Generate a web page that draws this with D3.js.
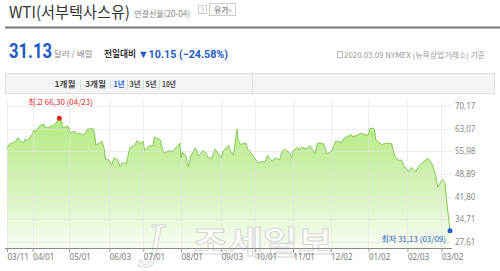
<!DOCTYPE html>
<html>
<head>
<meta charset="utf-8">
<script src="https://cdn.jsdelivr.net/npm/d3@7"></script>
<style>
body { margin: 0; background: #fff; font-family: "Noto Sans CJK KR", "Noto Sans", sans-serif; }
</style>
</head>
<body>
<div id="chart"></div>
<script>
// WTI daily close (USD / bbl)
const dates = [
    "2019-03-11","2019-03-13","2019-03-15","2019-03-18","2019-03-20","2019-03-22","2019-03-25","2019-03-26","2019-03-28",
    "2019-04-01","2019-04-02","2019-04-04","2019-04-05","2019-04-08","2019-04-09","2019-04-10","2019-04-11","2019-04-15",
    "2019-04-16","2019-04-17","2019-04-18","2019-04-22","2019-04-23","2019-04-24","2019-04-25","2019-04-26","2019-04-30",
    "2019-05-02","2019-05-06","2019-05-07","2019-05-09","2019-05-13","2019-05-16","2019-05-20","2019-05-21","2019-05-22",
    "2019-05-23","2019-05-28","2019-05-30","2019-05-31","2019-06-03","2019-06-05","2019-06-07","2019-06-10","2019-06-12",
    "2019-06-14","2019-06-17","2019-06-18","2019-06-20","2019-06-24","2019-06-26","2019-06-28","2019-07-01","2019-07-02",
    "2019-07-05","2019-07-09","2019-07-10","2019-07-12","2019-07-15","2019-07-16","2019-07-18","2019-07-22","2019-07-24",
    "2019-07-26","2019-07-31","2019-08-01","2019-08-02","2019-08-05","2019-08-07","2019-08-09","2019-08-13","2019-08-15",
    "2019-08-19","2019-08-21","2019-08-23","2019-08-26","2019-08-29","2019-09-03","2019-09-05","2019-09-09","2019-09-11",
    "2019-09-13","2019-09-16","2019-09-17","2019-09-19","2019-09-23","2019-09-25","2019-09-27","2019-09-30","2019-10-03",
    "2019-10-07","2019-10-09","2019-10-11","2019-10-15","2019-10-17","2019-10-21","2019-10-23","2019-10-25","2019-10-29",
    "2019-10-31","2019-11-01","2019-11-05","2019-11-06","2019-11-08","2019-11-12","2019-11-15","2019-11-19","2019-11-21",
    "2019-11-26","2019-11-29","2019-12-03","2019-12-05","2019-12-06","2019-12-11","2019-12-13","2019-12-17","2019-12-19",
    "2019-12-20","2019-12-24","2019-12-27","2019-12-31","2020-01-02","2020-01-03","2020-01-06","2020-01-07","2020-01-08",
    "2020-01-10","2020-01-13","2020-01-16","2020-01-21","2020-01-22","2020-01-24","2020-01-27","2020-01-29","2020-01-31",
    "2020-02-04","2020-02-06","2020-02-10","2020-02-12","2020-02-14","2020-02-20","2020-02-21","2020-02-24","2020-02-26",
    "2020-02-28","2020-03-02","2020-03-03","2020-03-05","2020-03-06","2020-03-09"
];
const prices = [
    56.79, 58.26, 58.52, 59.09, 60.23, 59.04, 58.82, 59.94, 59.30,
    61.59, 62.58, 62.10, 63.08, 64.40, 64.01, 64.61, 63.58, 63.40,
    64.05, 63.76, 64.00, 65.70, 66.30, 65.89, 65.21, 63.30, 63.91,
    61.81, 62.25, 61.40, 61.70, 61.04, 62.87, 63.10, 62.99, 61.42,
    57.91, 59.14, 56.59, 53.50, 53.25, 51.68, 53.99, 53.26, 51.14,
    52.51, 51.93, 53.90, 57.07, 57.90, 59.38, 58.47, 59.09, 56.25,
    57.51, 57.83, 60.43, 60.21, 59.58, 57.62, 55.30, 56.22, 55.88,
    56.20, 58.58, 53.95, 55.66, 54.69, 51.09, 54.50, 57.10, 54.47,
    56.21, 55.68, 54.17, 53.64, 56.71, 53.94, 56.30, 57.85, 55.75,
    54.85, 62.90, 59.34, 58.13, 58.64, 56.49, 55.91, 54.07, 52.45,
    52.75, 52.59, 54.70, 52.81, 53.93, 53.31, 55.97, 56.66, 55.54,
    54.18, 56.20, 57.23, 56.35, 57.24, 56.80, 57.72, 55.21, 58.58,
    58.41, 55.17, 56.10, 58.43, 59.20, 58.76, 60.07, 60.94, 61.22,
    60.44, 61.11, 61.72, 61.06, 61.18, 63.05, 63.27, 62.70, 59.61,
    59.04, 58.08, 58.52, 58.34, 56.74, 54.19, 53.14, 53.33, 51.56,
    49.61, 50.95, 49.57, 51.17, 52.05, 53.78, 53.38, 51.43, 48.73,
    44.76, 46.75, 47.18, 45.90, 41.28, 31.13
];
const yTicks = [27.61, 34.71, 41.80, 48.89, 55.98, 63.07, 70.17];
const xTicks = ["2019-03-11","2019-04-01","2019-05-01","2019-06-03","2019-07-01","2019-08-01","2019-09-03",
                "2019-10-01","2019-11-01","2019-12-02","2020-01-02","2020-02-03","2020-03-02"];
const periods = ["1개월", "3개월", "1년", "3년", "5년", "10년"];

const parseDate = d3.timeParse("%Y-%m-%d");
const data = dates.map((d, i) => ({ date: parseDate(d), value: prices[i] }));

const W = 500, H = 271;
const svg = d3.select("#chart").append("svg")
    .attr("width", W).attr("height", H)
    .style("display", "block");

// ---------- header ----------
svg.append("text").attr("x", 9).attr("y", 18)
    .attr("font-size", 16).attr("fill", "#333")
    .attr("textLength", 121).attr("lengthAdjust", "spacingAndGlyphs")
    .text("WTI(서부텍사스유)");
svg.append("text").attr("x", 134).attr("y", 17)
    .attr("font-size", 8.5).attr("fill", "#888")
    .attr("textLength", 56).attr("lengthAdjust", "spacingAndGlyphs")
    .text("연결선물(20-04)");
svg.append("rect").attr("x", 198.5).attr("y", 5.5).attr("width", 8).attr("height", 8)
    .attr("fill", "#fff").attr("stroke", "#ccc");
svg.append("text").attr("x", 202.5).attr("y", 12.5).attr("text-anchor", "middle")
    .attr("font-size", 7).attr("fill", "#aaa").text("?");
svg.append("rect").attr("x", 209.5).attr("y", 3.5).attr("width", 26).attr("height", 12)
    .attr("fill", "#fff").attr("stroke", "#ccc");
svg.append("text").attr("x", 214).attr("y", 12.5)
    .attr("font-size", 8).attr("fill", "#555").text("유가›");

svg.append("line").attr("x1", 5).attr("x2", 500).attr("y1", 27.5).attr("y2", 27.5)
    .attr("stroke", "#777").attr("stroke-width", 2);

svg.append("text").attr("x", 9).attr("y", 58)
    .attr("font-size", 21).attr("font-weight", "bold").attr("fill", "#1c5bc6")
    .attr("font-family", "Roboto, sans-serif")
    .attr("textLength", 43).attr("lengthAdjust", "spacingAndGlyphs")
    .text("31.13");
svg.append("text").attr("x", 54).attr("y", 57)
    .attr("font-size", 8.5).attr("fill", "#888")
    .text("달러 / 배럴");
svg.append("text").attr("x", 104).attr("y", 57)
    .attr("font-size", 9.5).attr("font-weight", "bold").attr("fill", "#333")
    .attr("textLength", 32).attr("lengthAdjust", "spacingAndGlyphs")
    .text("전일대비");
svg.append("text").attr("x", 138).attr("y", 57.5)
    .attr("font-size", 11).attr("font-weight", "bold").attr("fill", "#1c5bc6")
    .attr("font-family", "Roboto, sans-serif")
    .attr("textLength", 90).attr("lengthAdjust", "spacingAndGlyphs")
    .text("▼10.15 (−24.58%)");

svg.append("rect").attr("x", 337.5).attr("y", 51.5).attr("width", 5).attr("height", 6)
    .attr("fill", "none").attr("stroke", "#bbb");
svg.append("text").attr("x", 344).attr("y", 58)
    .attr("font-size", 8).attr("fill", "#999")
    .attr("textLength", 141).attr("lengthAdjust", "spacingAndGlyphs")
    .text("2020.03.09 NYMEX (뉴욕상업거래소) 기준");

// ---------- period tabs ----------
svg.append("rect").attr("x", 5.5).attr("y", 73.5).attr("width", 489).attr("height", 20)
    .attr("fill", "#f4f5f7").attr("stroke", "#dcdee3");
svg.append("line").attr("x1", 252.5).attr("x2", 252.5).attr("y1", 74).attr("y2", 93)
    .attr("stroke", "#dcdee3");

// centre and width of each tab label
const tabMid = [65, 95.5, 119, 135, 151, 169];
const tabWidth = [21, 21, 11, 11, 11, 14];
const tabSep = [80.5, 110.5, 127.5, 143.5, 159.5];
periods.forEach((p, i) => {
    svg.append("text").attr("x", tabMid[i]).attr("y", 87)
        .attr("text-anchor", "middle")
        .attr("font-size", 8).attr("font-weight", "bold")
        .attr("textLength", tabWidth[i]).attr("lengthAdjust", "spacingAndGlyphs")
        .attr("fill", p === "1년" ? "#2b63d1" : "#4a4a4a").text(p);
});
svg.append("g").selectAll("line").data(tabSep).join("line")
    .attr("x1", d => d).attr("x2", d => d).attr("y1", 80).attr("y2", 89)
    .attr("stroke", "#d6d8dd");

// ---------- chart ----------
const x = d3.scaleTime()
    .domain([parseDate("2019-03-11"), parseDate("2020-03-09")])
    .range([7, 450]);
const y = d3.scaleLinear()
    .domain([27.61, 70.17])
    .range([242, 106]);
const baseY = 248, plotRight = 452;

const grad = svg.append("defs").append("linearGradient")
    .attr("id", "fill").attr("gradientUnits", "userSpaceOnUse")
    .attr("x1", 0).attr("x2", 0).attr("y1", 115).attr("y2", baseY);
grad.append("stop").attr("offset", 0).attr("stop-color", "#b2e97f");
grad.append("stop").attr("offset", 0.55).attr("stop-color", "#d5f3b9");
grad.append("stop").attr("offset", 1).attr("stop-color", "#f8fdf3");

svg.append("path").datum(data)
    .attr("fill", "url(#fill)")
    .attr("d", d3.area().x(d => x(d.date)).y0(baseY).y1(d => y(d.value)));

// grid
svg.append("g").selectAll("line").data(yTicks).join("line")
    .attr("x1", 7).attr("x2", plotRight)
    .attr("y1", d => Math.round(y(d)) + 0.5).attr("y2", d => Math.round(y(d)) + 0.5)
    .attr("stroke", "#e3e3e3").attr("stroke-opacity", 0.6);
svg.append("g").selectAll("line").data(xTicks).join("line")
    .attr("x1", d => Math.round(x(parseDate(d))) + 0.5).attr("x2", d => Math.round(x(parseDate(d))) + 0.5)
    .attr("y1", 100).attr("y2", baseY)
    .attr("stroke", "#e3e3e3").attr("stroke-opacity", 0.6);

svg.append("path").datum(data)
    .attr("fill", "none").attr("stroke", "#86c757").attr("stroke-width", 1)
    .attr("d", d3.line().x(d => x(d.date)).y(d => y(d.value)));

// watermark
const wm = svg.append("g").attr("opacity", 0.9);
wm.append("text").attr("x", 146).attr("y", 258)
    .attr("font-size", 44).attr("font-style", "italic").attr("font-family", "DejaVu Serif, serif")
    .attr("fill", "#fff").attr("stroke", "#d4d4d4").attr("stroke-width", 1)
    .text("J");
wm.append("text").attr("x", 193).attr("y", 254)
    .attr("font-size", 32).attr("font-weight", "bold")
    .attr("fill", "#fff").attr("stroke", "#d4d4d4").attr("stroke-width", 1)
    .attr("textLength", 140).attr("lengthAdjust", "spacingAndGlyphs")
    .text("조세일보");

// x axis
const fmtX = d3.timeFormat("%m/%d");
const xAxis = svg.append("g").attr("transform", "translate(0," + baseY + ")")
    .call(d3.axisBottom(x).tickValues(xTicks.map(parseDate)).tickFormat(fmtX).tickSize(4).tickSizeOuter(0));
xAxis.select(".domain").attr("stroke", "#888").attr("d", "M5,0.5H" + plotRight);
xAxis.selectAll(".tick line").attr("stroke", "#999");
xAxis.selectAll(".tick text")
    .attr("text-anchor", "start").attr("x", 0).attr("y", 6)
    .attr("font-size", 8).attr("fill", "#777")
    .attr("font-family", "\"Noto Sans\", sans-serif");

// y axis (right)
const fmtY = d => d3.format(".2f")(d).replace(".", ",");
const yAxis = svg.append("g").attr("transform", "translate(453,0)")
    .call(d3.axisRight(y).tickValues(yTicks).tickFormat(fmtY).tickSize(0));
yAxis.select(".domain").remove();
yAxis.selectAll(".tick text")
    .attr("x", 2).attr("font-size", 8).attr("fill", "#888")
    .attr("font-family", "\"Noto Sans\", sans-serif");

// high / low markers
const hi = data.reduce((a, b) => (b.value > a.value ? b : a));
const lo = data.reduce((a, b) => (b.value < a.value ? b : a));

svg.append("circle").attr("cx", x(hi.date)).attr("cy", y(hi.value)).attr("r", 2.5).attr("fill", "#e02424");
svg.append("text").attr("x", x(hi.date) - 31).attr("y", y(hi.value) - 13)
    .attr("font-size", 8).attr("fill", "#e02424")
    .text("최고 " + fmtY(hi.value) + " (" + d3.timeFormat("%m/%d")(hi.date) + ")");

svg.append("circle").attr("cx", x(lo.date)).attr("cy", y(lo.value)).attr("r", 2.5).attr("fill", "#2560c8");
svg.append("text").attr("x", x(lo.date) - 4).attr("y", y(lo.value) + 11)
    .attr("text-anchor", "end").attr("font-size", 8).attr("fill", "#2560c8")
    .text("최저 " + fmtY(lo.value) + " (" + d3.timeFormat("%m/%d")(lo.date) + ")");
</script>
</body>
</html>
